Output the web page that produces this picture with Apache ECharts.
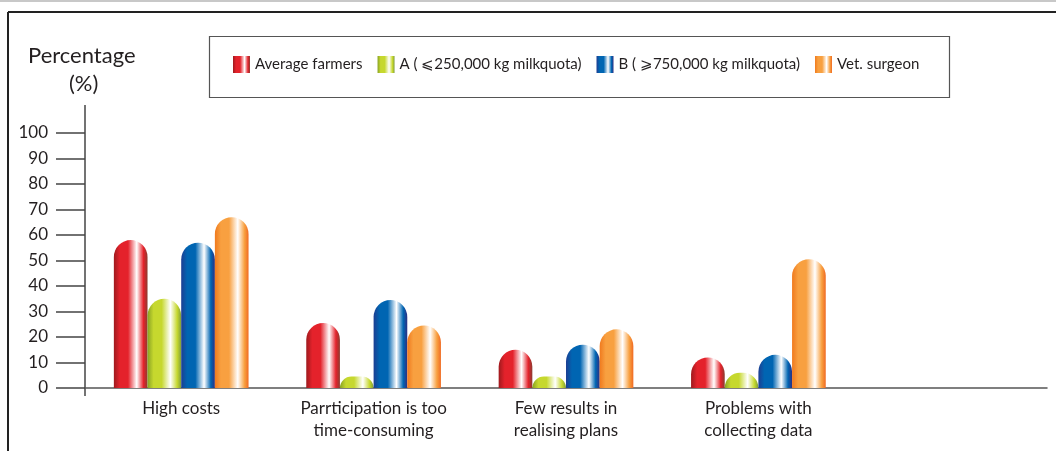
<!DOCTYPE html>
<html>
<head>
    <meta charset="utf-8">
    <title>Percentage by reason</title>
    <script src="https://cdn.jsdelivr.net/npm/echarts@6/dist/echarts.min.js"></script>
    <style>
        *{ margin:0; padding:0; }
        body{ background:#fff; }
        #main{ width:1056px; height:451px; }
    </style>
</head>
<body>
<div id="main"></div>
<script type="text/javascript">
    // data
    var categories = ['High costs', 'Parrticipation is too\ntime-consuming', 'Few results in\nrealising plans', 'Problems with\ncollecting data', ''];
    var seriesNames = ['Average farmers', 'A ( \u2a7d250,000 kg milkquota)', 'B ( \u2a7e750,000 kg milkquota)', 'Vet. surgeon'];
    var avgFarmers = [58, 25.5, 15, 12, null];
    var groupA = [35, 4.5, 4.5, 6, null];
    var groupB = [57, 34.5, 17, 13, null];
    var vetSurgeon = [67, 24.5, 23, 50.5, null];
    var yTicks = [0, 10, 20, 30, 40, 50, 60, 70, 80, 90, 100];

    var FONT = 'Lato';

    // left edge, body, highlight, right edge
    var palettes = [
        ['#9e1a1e', '#e4222b', '#ffffff', '#8c3b30'],
        ['#88a224', '#c6d82e', '#ffffff', '#7e9c3c'],
        ['#1d3e92', '#0065b2', '#ffffff', '#2c2f82'],
        ['#f07a1e', '#f8a040', '#ffffff', '#f06a22']
    ];

    function grad(p) {
        return new echarts.graphic.LinearGradient(0, 0, 1, 0, [
            {offset: 0, color: p[0]},
            {offset: 0.18, color: p[1]},
            {offset: 0.42, color: p[1]},
            {offset: 0.68, color: p[2]},
            {offset: 0.88, color: p[1]},
            {offset: 1, color: p[3]}
        ]);
    }

    var values = [avgFarmers, groupA, groupB, vetSurgeon];
    var series = values.map(function (v, i) {
        return {
            name: seriesNames[i],
            type: 'bar',
            data: v,
            barGap: '0%',
            barCategoryGap: '30%',
            itemStyle: {
                color: grad(palettes[i]),
                borderRadius: [17, 17, 0, 0]
            }
        };
    });

    var gLeft = 85, gRight = 9, gTop = 133, gBottom = 63;

    var chart = echarts.init(document.getElementById('main'));
    chart.setOption({
        animation: false,
        textStyle: {fontFamily: FONT},
        grid: {left: gLeft, right: gRight, top: gTop, bottom: gBottom, containLabel: false},
        legend: {
            data: seriesNames,
            left: 233,
            top: 56,
            padding: 0,
            itemGap: 15,
            itemWidth: 17,
            itemHeight: 17,
            icon: 'rect',
            textStyle: {fontFamily: FONT, fontSize: 15, color: '#231f20'}
        },
        xAxis: {
            type: 'category',
            data: categories,
            axisLine: {lineStyle: {color: '#555', width: 1.5}},
            axisTick: {show: false},
            axisLabel: {
                fontFamily: FONT, fontSize: 17, color: '#231f20',
                margin: 10, lineHeight: 22, interval: 0
            }
        },
        yAxis: {
            type: 'value',
            min: 0, max: 100, interval: 10,
            splitLine: {show: false},
            axisLine: {show: false},
            axisTick: {show: true, length: 29, lineStyle: {color: '#444', width: 1.5}},
            axisLabel: {
                fontFamily: FONT, fontSize: 17, color: '#231f20', margin: 37,
                formatter: function (v) { return yTicks.indexOf(v) >= 0 ? String(v) : ''; }
            }
        },
        graphic: [
            // page frame
            {type: 'line', shape: {x1: 0, y1: 1, x2: 1056, y2: 1}, style: {stroke: '#c8c8c8', lineWidth: 2}},
            {type: 'line', shape: {x1: 8, y1: 12, x2: 1056, y2: 12}, style: {stroke: '#222', lineWidth: 2}},
            {type: 'line', shape: {x1: 8, y1: 12, x2: 8, y2: 451}, style: {stroke: '#222', lineWidth: 2}},
            // legend box
            {type: 'rect', shape: {x: 209.5, y: 36.5, width: 740, height: 61}, style: {fill: 'none', stroke: '#555', lineWidth: 1.2}},
            // y axis line, extended past the plot
            {type: 'line', shape: {x1: gLeft, y1: 105, x2: gLeft, y2: 396}, style: {stroke: '#444', lineWidth: 1.5}},
            // axis title
            {type: 'text', left: 28, top: 45, style: {text: 'Percentage', font: '22px ' + FONT, fill: '#231f20'}},
            {type: 'text', left: 69, top: 73, style: {text: '(%)', font: '22px ' + FONT, fill: '#231f20'}}
        ],
        series: series
    });
</script>
</body>
</html>
